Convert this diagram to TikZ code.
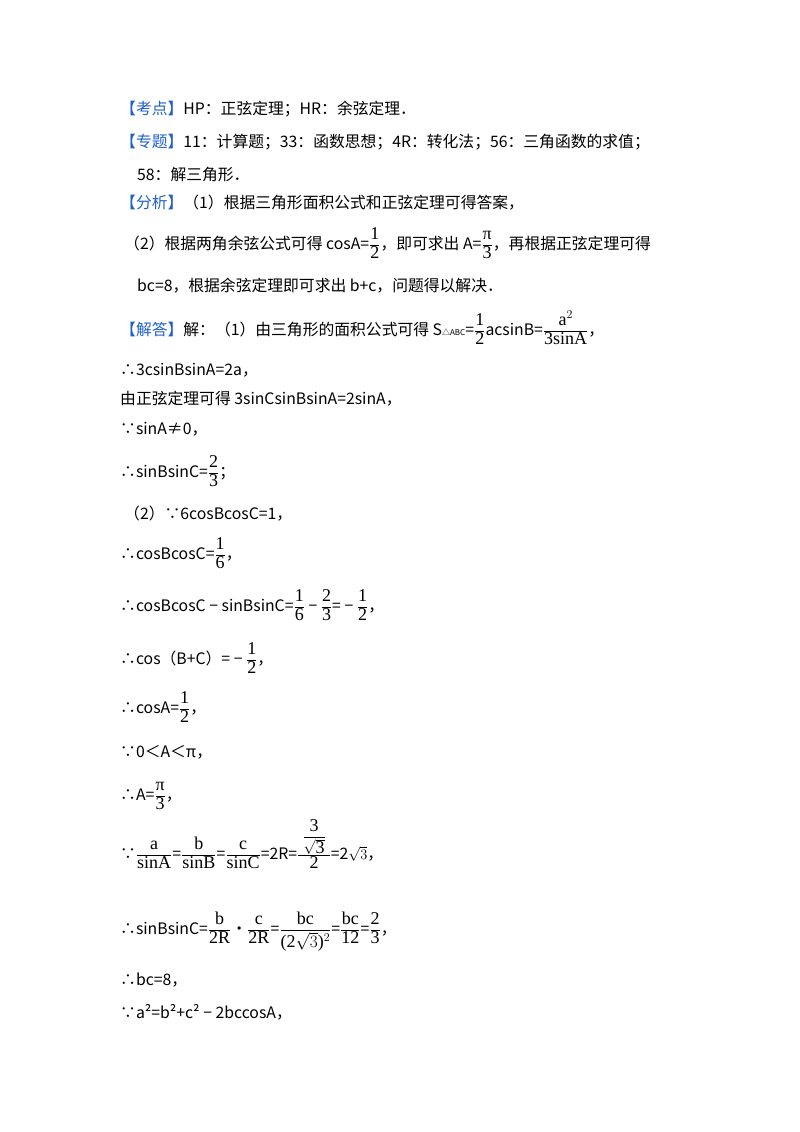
\documentclass[tikz,border=0pt]{standalone}
\usepackage{fontspec}
\setmainfont{Noto Sans CJK SC}
\newfontfamily\ser{Liberation Serif}
\definecolor{lab}{HTML}{2060C8}
\newcommand{\lb}[1]{\textcolor{lab}{#1}}
\newcommand{\sv}[1]{\hbox{\ser\fontsize{18}{19}\selectfont #1}}
\newcommand{\fr}[2]{$\displaystyle\frac{\sv{#1}}{\sv{#2}}$}
\begin{document}
\begin{tikzpicture}[x=1pt,y=-1pt,every node/.style={anchor=base west,inner sep=0pt,font=\fontsize{15.8}{17}\selectfont}]
\useasboundingbox (0,0) rectangle (800,1132);
\node (l1) at (120,114) {\lb{【考点】}HP：正弦定理；HR：余弦定理．};
\node (l2) at (120,147) {\lb{【专题】}11：计算题；33：函数思想；4R：转化法；56：三角函数的求值；};
\node (l3) at (137,180) {58：解三角形．};
\node (l4) at (120,208) {\lb{【分析】}（1）根据三角形面积公式和正弦定理可得答案，};
\node (l5) at (124,249) {（2）根据两角余弦公式可得 cosA=\fr{1}{2}，即可求出 A=\fr{π}{3}，再根据正弦定理可得};
\node (l6) at (137,291) {bc=8，根据余弦定理即可求出 b+c，问题得以解决．};
\node (l7) at (120,335) {\lb{【解答】}解：（1）由三角形的面积公式可得 S{\fontsize{8}{9}\selectfont △ABC}=\fr{1}{2}acsinB=\fr{a$^2$}{3sinA}，};
\node (l8) at (120,375) {∴3csinBsinA=2a，};
\node (l9) at (120,404) {由正弦定理可得 3sinCsinBsinA=2sinA，};
\node (l10) at (120,434) {∵sinA≠0，};
\node (l11) at (120,477) {∴sinBsinC=\fr{2}{3}；};
\node (l12) at (124,519) {（2）∵6cosBcosC=1，};
\node (l13) at (120,559) {∴cosBcosC=\fr{1}{6}，};
\node (l14) at (120,611) {∴cosBcosC − sinBsinC=\fr{1}{6} − \fr{2}{3}= − \fr{1}{2}，};
\node (l15) at (120,664) {∴cos（B+C）= − \fr{1}{2}，};
\node (l16) at (120,713) {∴cosA=\fr{1}{2}，};
\node (l17) at (120,757) {∵0＜A＜π，};
\node (l18) at (120,800) {∴A=\fr{π}{3}，};
\node (l19) at (120,859) {∵\fr{a}{sinA}=\fr{b}{sinB}=\fr{c}{sinC}=2R=$\displaystyle\frac{\;\displaystyle\frac{\sv{3}}{\sqrt{\sv{3}}}\;}{\sv{2}}$=2$\sqrt{3}$，};
\node (l20) at (120,934) {∴sinBsinC=\fr{b}{2R}•\fr{c}{2R}=\fr{bc}{(2$\sqrt{3}$)$^2$}=\fr{bc}{12}=\fr{2}{3}，};
\node (l21) at (120,985) {∴bc=8，};
\node (l22) at (120,1018) {∵a²=b²+c² − 2bccosA，};
\end{tikzpicture}
\end{document}
